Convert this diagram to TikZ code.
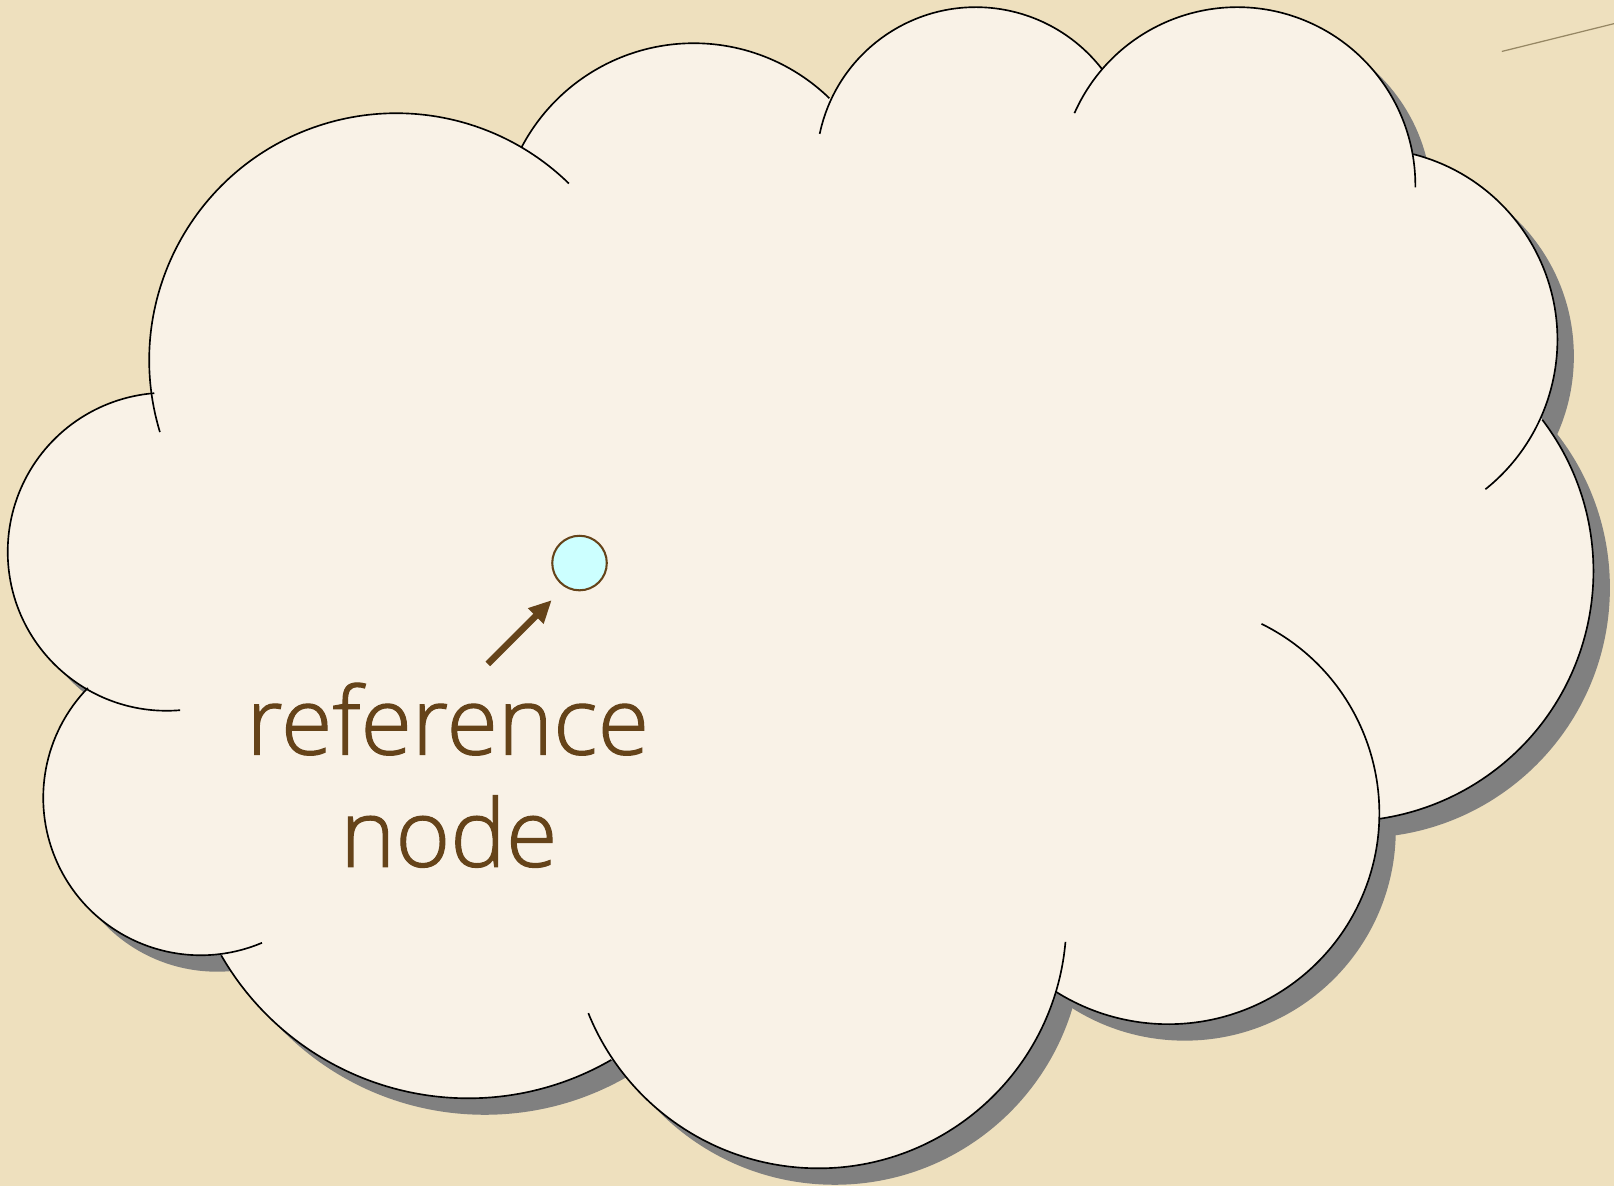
\documentclass[tikz,border=0pt]{standalone}
\usepackage{fontspec}
\setmainfont{Open Sans}[UprightFont={* Light},FakeBold=1.2]
\usetikzlibrary{arrows.meta}
\definecolor{bgc}{RGB}{238,224,190}
\definecolor{cloudc}{RGB}{249,242,231}
\definecolor{shadowc}{RGB}{128,128,128}
\definecolor{brownc}{RGB}{101,67,25}
\definecolor{dotc}{RGB}{204,255,255}
\definecolor{fiberc}{RGB}{150,135,100}
\begin{document}
\begin{tikzpicture}[x=0.5pt,y=0.5pt,
  cloudline/.style={draw=black,line width=0.8pt},
  labeltext/.style={text=brownc,font=\fontsize{45.5}{50}\selectfont,inner sep=0pt,anchor=base},
  refdot/.style={circle,draw=brownc,fill=dotc,line width=1pt,minimum size=26.5pt,inner sep=0pt},
  pointer/.style={draw=brownc,line width=3.2pt,-{Triangle[length=11pt,width=10pt]}}]
\fill[bgc] (0,0) rectangle (1568,1152);
\useasboundingbox (0,0) rectangle (1568,1152);
\draw[fiberc,line width=0.6pt] (1459,1102) -- (1568,1129);
\def\lobes{162/616/154.5, 385/802/240, 674/921/189, 948/990/155, 1202/972/173, 1327/822/186, 1305/597/243, 1135/362/205, 795/258/241, 455/362/277, 195/377/153}
% shadow
\begin{scope}[shift={(16,-16)}]
  \fill[shadowc] (162,616) -- (385,802) -- (674,921) -- (948,990) -- (1202,972) -- (1327,822) -- (1305,597) -- (1135,362) -- (795,258) -- (455,362) -- (195,377) -- cycle;
  \foreach \cx/\cy/\rr in \lobes { \fill[shadowc] (\cx,\cy) circle[radius=\rr]; }
\end{scope}
% cloud body
\fill[cloudc] (162,616) -- (385,802) -- (674,921) -- (948,990) -- (1202,972) -- (1327,822) -- (1305,597) -- (1135,362) -- (795,258) -- (455,362) -- (195,377) -- cycle;
\foreach \cx/\cy/\rr in \lobes { \fill[cloudc] (\cx,\cy) circle[radius=\rr]; }
% cloud outline arcs
\foreach \cx/\cy/\rr/\sa/\ea in {
  162/616/154.5/-85.2/-265.5,
  385/802/240/196.9/45.7,
  674/921/189/152.2/45.8,
  948/990/155/168.1/37.6,
  1202/972/173/156.1/-0.7,
  1327/822/186/75.7/-51.4,
  1305/597/243/37.3/-81.6,
  1135/362/205/63.8/-122.2,
  795/258/241/-5/-158,
  455/362/277/-59.9/-150.1,
  195/377/153/-67.1/-224.2} {
  \draw[cloudline] (\cx,\cy) ++(\sa:\rr) arc[start angle=\sa, end angle=\ea, radius=\rr];
}
% reference node
\node[refdot] (dot) at (563,605) {};
\node[labeltext] (lbl1) at (435,419) {reference};
\node[labeltext] (lbl2) at (436,310) {node};
\coordinate (tail) at (474,507);
\draw[pointer] (tail) -- ([xshift=-13.5pt,yshift=-18pt]dot.center);
\end{tikzpicture}
\end{document}
